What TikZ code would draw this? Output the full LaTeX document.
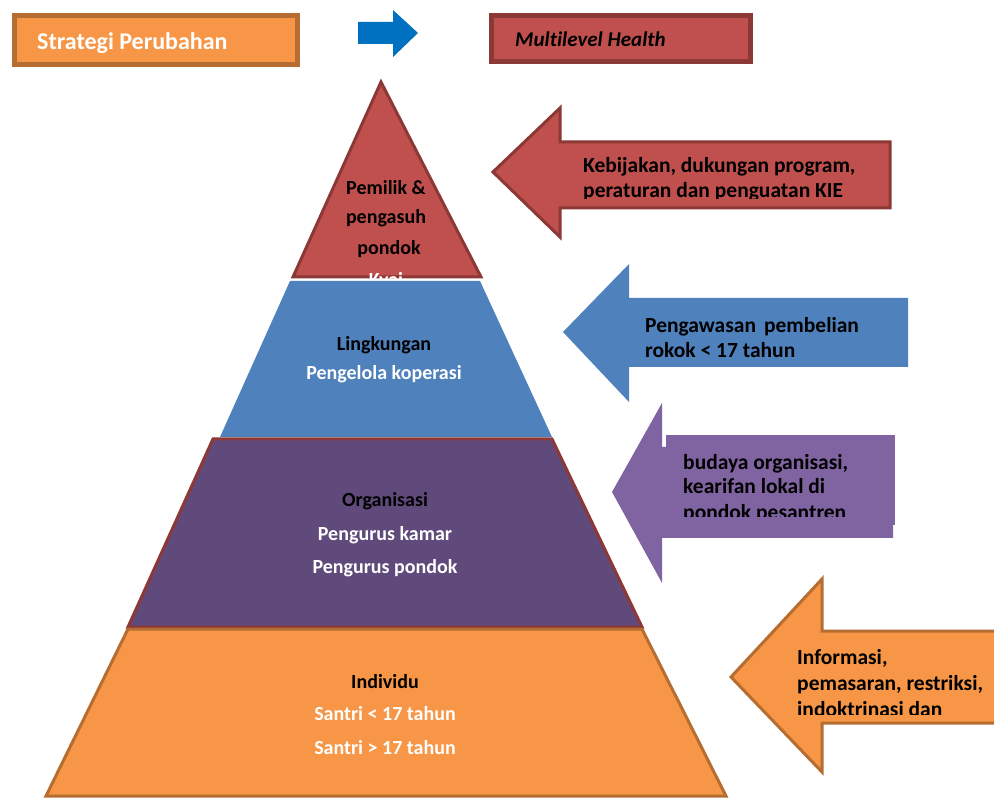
\documentclass[tikz,border=0pt]{standalone}
\usepackage{fontspec}
\setmainfont{Carlito}[Ligatures=NoCommon]
\definecolor{orgfill}{HTML}{F79646}
\definecolor{orgline}{HTML}{B66D31}
\definecolor{redfill}{HTML}{C0504D}
\definecolor{redline}{HTML}{8C3836}
\definecolor{bluefill}{HTML}{4F81BD}
\definecolor{purpfill}{HTML}{8064A2}
\definecolor{purpdark}{HTML}{604A7B}
\definecolor{arrowblue}{HTML}{0070C0}
\begin{document}
\begin{tikzpicture}[x=1pt,y=-1pt,
  lbl/.style={font=\bfseries\fontsize{20}{24}\selectfont, inner sep=0pt, anchor=base},
  blk/.style={lbl, text=black},
  wht/.style={lbl, text=white},
  arrtext/.style={font=\bfseries\fontsize{21.5}{25}\selectfont, inner sep=0pt, anchor=base west, align=left, text=black}]
\useasboundingbox (0,0) rectangle (994,799);

% header boxes
\draw[fill=orgfill, draw=orgline, line width=5pt] (14.5,15.5) rectangle (297.5,64.5);
\node[font=\bfseries\fontsize{24}{28}\selectfont, text=white, anchor=base west, inner sep=0pt] (strat) at (37,50) {Strategi Perubahan};
\fill[arrowblue] (358,22) -- (393,22) -- (393,10) -- (418,33) -- (393,57) -- (393,44) -- (358,44) -- cycle;
\draw[fill=redfill, draw=redline, line width=5pt] (491.5,15.5) rectangle (750.5,61.5);
\node[font=\bfseries\itshape\fontsize{21}{24}\selectfont, text=black, anchor=base west, inner sep=0pt] (multi) at (515,47) {Multilevel Health};

% pyramid
\draw[fill=redfill, draw=redline, line width=3pt, line join=miter] (381,82) -- (481,277) -- (293,277) -- cycle;
\node[blk] (pemilik) at (386,195) {Pemilik \&};
\node[blk] (pengasuh) at (386,224) {pengasuh};
\node[blk] (pondok) at (389,255) {pondok};
\node[wht] (kyai) at (386,287) {Kyai};
\fill[bluefill] (290,281) -- (480,281) -- (552,437) -- (220,437) -- cycle;
\node[blk] (ling) at (384,351) {Lingkungan};
\node[wht] (koper) at (384,380) {Pengelola koperasi};
\draw[fill=purpdark, draw=redline, line width=3pt] (213,439) -- (552,439) -- (642,627) -- (128,627) -- cycle;
\node[blk] (orgn) at (385,507) {Organisasi};
\node[wht] (kamar) at (385,540) {Pengurus kamar};
\node[wht] (pp) at (385,573) {Pengurus pondok};
\draw[fill=orgfill, draw=orgline, line width=3pt] (128,629) -- (642,629) -- (726,796) -- (46,796) -- cycle;
\node[blk] (indiv) at (385,688) {Individu};
\node[wht] (s1) at (385,720) {Santri < 17 tahun};
\node[wht] (s2) at (385,754) {Santri > 17 tahun};

% side arrows
\draw[fill=redfill, draw=redline, line width=3pt] (493,172) -- (560,108) -- (560,142) -- (890,142) -- (890,208) -- (560,208) -- (560,237) -- cycle;
\begin{scope}
\clip (560,140) rectangle (890,198.5);
\node[arrtext] (kebij) at (583,198) {Kebijakan, dukungan program,\\peraturan dan penguatan KIE};
\end{scope}

\fill[bluefill] (563,332) -- (629,264) -- (629,298) -- (908,298) -- (908,367) -- (629,367) -- (629,402) -- cycle;
\node[arrtext] (pengaw) at (645,358) {Pengawasan\hspace{8pt}pembelian\\rokok < 17 tahun};

\fill[purpfill] (612,492) -- (662,403) -- (662,447) -- (893,447) -- (893,538) -- (662,538) -- (662,583) -- cycle;
\fill[purpfill] (666,435) rectangle (895,525);
\begin{scope}
\clip (662,430) rectangle (895,517);
\node[arrtext] (budaya) at (683,519) {budaya organisasi,\\kearifan lokal di\\pondok pesantren};
\end{scope}

\draw[fill=orgfill, draw=orgline, line width=3pt] (731,677) -- (822,579) -- (822,631) -- (1000,631) -- (1000,723) -- (822,723) -- (822,772) -- cycle;
\begin{scope}
\clip (780,630) rectangle (994,714);
\node[arrtext, font=\bfseries\fontsize{21.5}{26}\selectfont] (info) at (797,716) {Informasi,\\pemasaran, restriksi,\\indoktrinasi dan};
\end{scope}
\end{tikzpicture}
\end{document}
